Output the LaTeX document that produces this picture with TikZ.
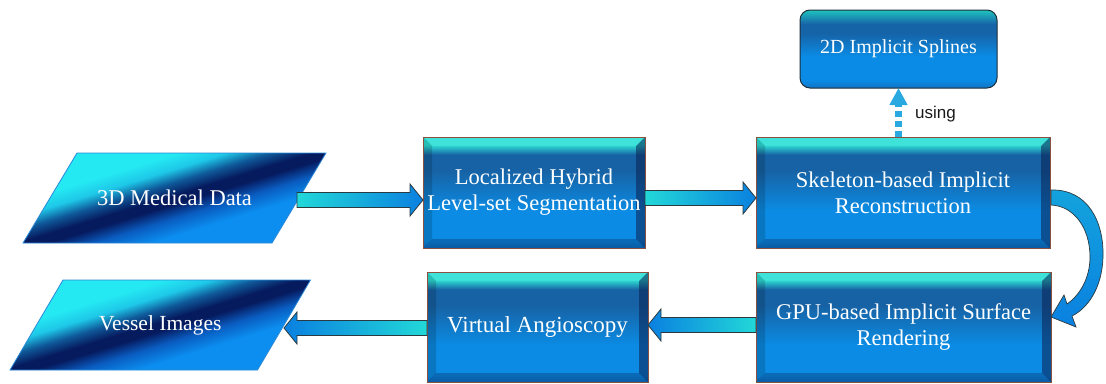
\documentclass[tikz,border=0pt]{standalone}
\usepackage{fontspec}
\setmainfont{Liberation Serif}
\newfontfamily\labelfont{Liberation Sans}
\usetikzlibrary{calc,arrows.meta,backgrounds}

\definecolor{bxT}{HTML}{2EE0D6}
\definecolor{bxB3}{HTML}{1762A4}
\definecolor{bxB2}{HTML}{0B8BE3}
\definecolor{bxB1}{HTML}{0A74C8}
\definecolor{bxLine}{HTML}{8A5040}
\definecolor{pBlue}{HTML}{0B8EF0}
\definecolor{pBlue2}{HTML}{0A5CC0}
\definecolor{pNavy}{HTML}{061A5E}
\definecolor{pMid}{HTML}{0F5A9A}
\definecolor{pCyan2}{HTML}{1EC8E8}
\definecolor{pCyan}{HTML}{24E8F2}
\definecolor{pEdge}{HTML}{2C8AD8}
\definecolor{sT}{HTML}{1FC4BE}
\definecolor{sB3}{HTML}{1664A8}
\definecolor{sB2}{HTML}{0A8CE6}
\definecolor{sB1}{HTML}{1272C0}
\definecolor{sLine}{HTML}{1E2E38}
\definecolor{arrCyan}{HTML}{22D8D8}
\definecolor{arrBlue}{HTML}{0A80E0}
\definecolor{arrLine}{HTML}{2B3A40}
\definecolor{dotBlue}{HTML}{2AA8E0}
\definecolor{bevR}{HTML}{0A2050}

\pgfdeclareverticalshading{boxshade}{100bp}{color(0bp)=(bxB1); color(25bp)=(bxB1); color(28bp)=(bxB2); color(42bp)=(bxB2); color(60bp)=(bxB3); color(67bp)=(bxB3); color(71.5bp)=(bxT); color(75bp)=(bxT); color(100bp)=(bxT)}
\pgfdeclareverticalshading{parashade}{100bp}{color(0bp)=(pBlue); color(37bp)=(pBlue); color(43bp)=(pBlue2); color(48bp)=(pNavy); color(51bp)=(pNavy); color(55.5bp)=(pMid); color(60bp)=(pCyan2); color(65bp)=(pCyan); color(100bp)=(pCyan)}
\pgfdeclareverticalshading{splshade}{100bp}{color(0bp)=(sB1); color(25bp)=(sB1); color(30bp)=(sB2); color(45bp)=(sB2); color(60bp)=(sB3); color(66bp)=(sB3); color(75bp)=(sT); color(100bp)=(sT)}

\newcommand\sh{7.5pt}
\newcommand\hh{16pt}
\newcommand\hl{13pt}
\newcommand\rarrow[2]{\path[barrow, left color=arrCyan, right color=arrBlue] let \p1=(#1), \p2=(#2) in
  (\x1,{\y1+\sh}) -- ({\x2-\hl},{\y1+\sh}) -- ({\x2-\hl},{\y1+\hh}) -- (\x2,\y1) -- ({\x2-\hl},{\y1-\hh}) -- ({\x2-\hl},{\y1-\sh}) -- (\x1,{\y1-\sh}) -- cycle;}
\newcommand\larrow[2]{\path[barrow, left color=arrBlue, right color=arrCyan] let \p1=(#1), \p2=(#2) in
  (\x1,{\y1+\sh}) -- ({\x2+\hl},{\y1+\sh}) -- ({\x2+\hl},{\y1+\hh}) -- (\x2,\y1) -- ({\x2+\hl},{\y1-\hh}) -- ({\x2+\hl},{\y1-\sh}) -- (\x1,{\y1-\sh}) -- cycle;}

\tikzset{
  txt/.style={text=white, align=center, font=\fontsize{22.5}{26}\selectfont, inner sep=2pt, outer sep=0pt},
  proc/.style={txt, rectangle, shade, shading=boxshade, draw=bxLine, line width=0.8pt,
    path picture={
      \fill[black, opacity=.15] (path picture bounding box.north west) -- (path picture bounding box.south west)
        -- ([shift={(9pt,9pt)}]path picture bounding box.south west) -- ([shift={(9pt,-9pt)}]path picture bounding box.north west) -- cycle;
      \fill[bevR, opacity=.55] (path picture bounding box.north east) -- (path picture bounding box.south east)
        -- ([shift={(-9pt,9pt)}]path picture bounding box.south east) -- ([shift={(-9pt,-9pt)}]path picture bounding box.north east) -- cycle;
      \fill[bevR, opacity=.3] (path picture bounding box.south west) -- (path picture bounding box.south east)
        -- ([shift={(-9pt,9pt)}]path picture bounding box.south east) -- ([shift={(9pt,9pt)}]path picture bounding box.south west) -- cycle;
      \fill[white, opacity=.08] (path picture bounding box.north west) -- (path picture bounding box.north east)
        -- ([shift={(-9pt,-9pt)}]path picture bounding box.north east) -- ([shift={(9pt,-9pt)}]path picture bounding box.north west) -- cycle;
    }},
  paratxt/.style={txt, rectangle, minimum height=90pt},
  para/.style={shade, shading=parashade, shading angle=17, draw=pEdge, line width=0.8pt},
  splbox/.style={txt, font=\fontsize{20}{24}\selectfont, rectangle, rounded corners=10pt, shade, shading=splshade, draw=sLine, line width=1pt},
  barrow/.style={draw=arrLine, line width=0.8pt},
  dotarr/.style={draw=dotBlue, line width=6.5pt, dash pattern=on 6pt off 4pt, -{Triangle[length=17pt,width=17pt]}},
  curvarr/.style={draw=arrLine, line width=0.7pt, top color=arrBlue!60!arrCyan, middle color=arrCyan, bottom color=arrBlue},
  lbl/.style={text=black!90, font=\labelfont\fontsize{17}{20}\selectfont, inner sep=0pt}
}

\begin{document}
\begin{tikzpicture}[x=1pt,y=-1pt]
\useasboundingbox (0,0) rectangle (1106,383);

% process boxes
\node[proc, minimum width=222pt, minimum height=111pt] (seg) at (534,192.5) {Localized Hybrid\\Level-set Segmentation};
\node[proc, minimum width=294pt, minimum height=111pt] (skel) at (903,192.5) {Skeleton-based Implicit\\Reconstruction};
\node[proc, minimum width=295pt, minimum height=110pt] (gpu) at (903.5,327) {GPU-based Implicit Surface\\Rendering};
\node[proc, minimum width=221pt, minimum height=110pt, font=\fontsize{23}{26}\selectfont] (virt) at (537.5,327) {Virtual Angioscopy};
\node[splbox, minimum width=197pt, minimum height=78pt] (spl) at (898.5,49) {2D Implicit Splines};

% data (parallelogram) nodes
\node[paratxt, minimum width=249pt] (med) at (174.5,198) {\raisebox{-3pt}{3D Medical Data}};
\node[paratxt, minimum width=247.5pt, font=\fontsize{21.5}{26}\selectfont] (ves) at (160.25,325) {\raisebox{-2pt}{Vessel Images}};
\begin{scope}[on background layer]
  \path[para] ([shift={(27,0)}]med.north west) -- ([shift={(27,0)}]med.north east)
    -- ([shift={(-27,0)}]med.south east) -- ([shift={(-27,0)}]med.south west) -- cycle;
  \path[para] ([shift={(26.5,0)}]ves.north west) -- ([shift={(26.5,0)}]ves.north east)
    -- ([shift={(-26.5,0)}]ves.south east) -- ([shift={(-26.5,0)}]ves.south west) -- cycle;
\end{scope}

% block arrows
\rarrow{[shift={(-2,2)}]med.east}{seg.west}
\rarrow{[shift={(0,5.5)}]seg.east}{skel.west}
\larrow{[shift={(0,-2)}]gpu.west}{virt.east}
\larrow{[shift={(0,1)}]virt.west}{ves.east}

% dotted "using" arrow
\draw[dotarr] (spl.south |- skel.north) -- (spl.south);
\node[lbl, anchor=base west] (use) at (915,118) {using};

% curved arrow from skeleton box to GPU box
\begin{scope}[shift={(skel.east)}]
  \path[curvarr] (1,-2.5) .. controls (38,-3.5) and (54,29.5) .. (53,64.5)
    .. controls (52,95.5) and (38,115.5) .. (22,123.5)
    -- (26,134.5) -- (1,124.5) -- (14,102.5) -- (17,111.5)
    .. controls (30,102.5) and (40,85.5) .. (40,64.5)
    .. controls (40,35.5) and (24,13.5) .. (1,12.5) -- cycle;
\end{scope}
\end{tikzpicture}
\end{document}
